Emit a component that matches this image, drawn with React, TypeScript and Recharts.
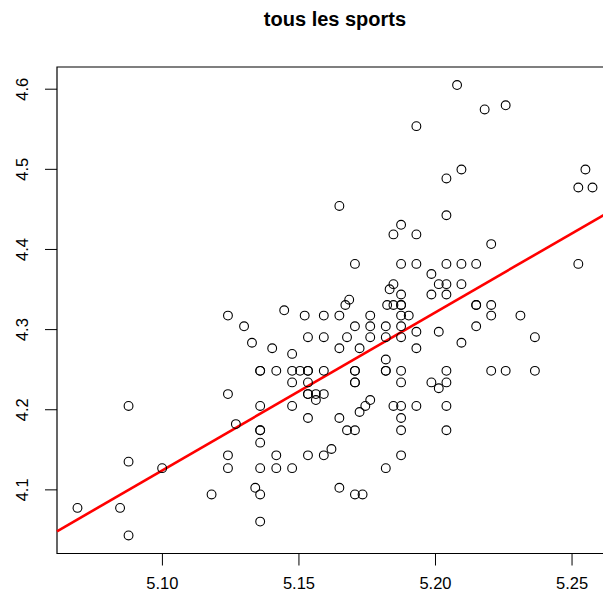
import React from 'react';
import { ScatterChart, Scatter, XAxis, YAxis, ReferenceLine, ReferenceArea } from 'recharts';

// log(taille) et log(poids)
const logHeight = [
  5.0689, 5.0845, 5.0876, 5.0876, 5.0876, 5.0999, 5.1180, 5.1240, 5.1269, 5.1240,
  5.1240, 5.1340, 5.1358, 5.1358, 5.1358, 5.1358, 5.1358, 5.1358, 5.1417, 5.1417,
  5.1475, 5.1533, 5.1591, 5.1619, 5.1648, 5.1676, 5.1705, 5.1705, 5.1733, 5.1818,
  5.1874, 5.1874, 5.1240, 5.1299, 5.1328, 5.1402, 5.1446, 5.1475, 5.1521, 5.1591,
  5.1648, 5.1670, 5.1684, 5.1705, 5.1761, 5.1761, 5.1818, 5.1846, 5.1832, 5.1874,
  5.1823, 5.1846, 5.1874, 5.1874, 5.1874, 5.1902, 5.1874, 5.1874, 5.1930, 5.1930,
  5.1533, 5.1591, 5.1648, 5.1676, 5.1722, 5.1761, 5.1818, 5.1818, 5.1358, 5.1358,
  5.1417, 5.1475, 5.1504, 5.1533, 5.1533, 5.1591, 5.1705, 5.1705, 5.1818, 5.1818,
  5.1874, 5.1475, 5.1533, 5.1705, 5.1705, 5.1874, 5.1533, 5.1533, 5.1562, 5.1591,
  5.1562, 5.1358, 5.1475, 5.1761, 5.1743, 5.1722, 5.1846, 5.1874, 5.1930, 5.1533,
  5.1648, 5.1874, 5.1874, 5.1930, 5.2040, 5.2095, 5.2149, 5.2523, 5.1985, 5.2012,
  5.2040, 5.2095, 5.1985, 5.2040, 5.2149, 5.2149, 5.2204, 5.2204, 5.2311, 5.2149,
  5.2012, 5.2364, 5.2095, 5.2040, 5.2204, 5.2257, 5.2364, 5.1985, 5.2040, 5.2012,
  5.2040, 5.2040, 5.2079, 5.1930, 5.2180, 5.2257, 5.2095, 5.2040, 5.2549, 5.2523,
  5.2575, 5.2040, 5.1874, 5.1846, 5.1930, 5.2204, 5.1648, 5.1705,
];

const logWeight = [
  4.0775, 4.0775, 4.2047, 4.1352, 4.0431, 4.1271, 4.0943, 4.2195, 4.1821, 4.1431,
  4.1271, 4.1026, 4.1744, 4.1744, 4.1589, 4.1271, 4.0943, 4.0604, 4.1431, 4.1271,
  4.1271, 4.1431, 4.1431, 4.1510, 4.1026, 4.1744, 4.1744, 4.0943, 4.0943, 4.1271,
  4.1744, 4.1431, 4.3175, 4.3041, 4.2836, 4.2767, 4.3241, 4.2697, 4.3175, 4.3175,
  4.3175, 4.3307, 4.3373, 4.3041, 4.3175, 4.3041, 4.3041, 4.3567, 4.3503, 4.3438,
  4.3307, 4.3307, 4.3307, 4.3307, 4.3175, 4.3175, 4.3041, 4.2905, 4.2973, 4.2767,
  4.2905, 4.2905, 4.2767, 4.2905, 4.2767, 4.2905, 4.2905, 4.2627, 4.2485, 4.2485,
  4.2485, 4.2485, 4.2485, 4.2485, 4.2485, 4.2485, 4.2485, 4.2485, 4.2485, 4.2485,
  4.2485, 4.2341, 4.2341, 4.2341, 4.2341, 4.2341, 4.2195, 4.2195, 4.2195, 4.2195,
  4.2121, 4.2047, 4.2047, 4.2121, 4.2047, 4.1972, 4.2047, 4.2047, 4.2047, 4.1897,
  4.1897, 4.1897, 4.3820, 4.3820, 4.3820, 4.3820, 4.3820, 4.3820, 4.3694, 4.3567,
  4.3567, 4.3567, 4.3438, 4.3438, 4.3307, 4.3307, 4.3307, 4.3175, 4.3175, 4.3041,
  4.2973, 4.2905, 4.2836, 4.2485, 4.2485, 4.2485, 4.2485, 4.2341, 4.2341, 4.2268,
  4.2047, 4.1744, 4.6052, 4.5539, 4.5747, 4.5799, 4.4998, 4.4886, 4.4998, 4.4773,
  4.4773, 4.4427, 4.4308, 4.4188, 4.4188, 4.4067, 4.4543, 4.3820,
];

const xTicks = [5.10, 5.15, 5.20, 5.25];
const yTicks = [4.1, 4.2, 4.3, 4.4, 4.5, 4.6];
const xDomain = [5.0614, 5.2650];
const yDomain = [4.0206, 4.6277];

const points = logHeight.map((x, i) => ({ x, y: logWeight[i] }));

// droite des moindres carrés
const n = points.length;
const mx = points.reduce((s, p) => s + p.x, 0) / n;
const my = points.reduce((s, p) => s + p.y, 0) / n;
let sxy = 0;
let sxx = 0;
points.forEach(p => {
  sxy += (p.x - mx) * (p.y - my);
  sxx += (p.x - mx) * (p.x - mx);
});
const slope = sxy / sxx;
const intercept = my - slope * mx;
const fitAt = (x: number) => intercept + slope * x;

const FONT = '"Liberation Sans", Arial, Helvetica, sans-serif';

const Ring = (props: any) => (
  <circle cx={props.cx} cy={props.cy} r={4.4} fill="none" stroke="#000" strokeWidth={1.1} />
);

const YTick = (props: any) => {
  const { x, y, payload } = props;
  return (
    <text
      transform={`translate(${x},${y}) rotate(-90)`}
      textAnchor="middle"
      dy="0.36em"
      fontSize={16.5}
      fontFamily={FONT}
      fill="#000"
    >
      {payload.value.toFixed(1)}
    </text>
  );
};

export default function App() {
  return (
    <div style={{ position: 'absolute', left: 0, top: 0, width: 603, height: 600, overflow: 'hidden', background: '#fff' }}>
      <div
        style={{
          position: 'absolute', left: 57, width: 556, top: 8, textAlign: 'center',
          fontFamily: FONT, fontWeight: 'bold', fontSize: 20, color: '#000',
        }}
      >
        tous les sports
      </div>
      <ScatterChart width={620} height={600} margin={{ top: 67, right: 7, bottom: 0, left: 0 }}>
        <XAxis
          type="number"
          dataKey="x"
          domain={xDomain}
          ticks={xTicks}
          allowDataOverflow
          height={46.5}
          axisLine={false}
          tickSize={12}
          tickMargin={12}
          tickLine={{ stroke: '#000' }}
          tick={{ fill: '#000', fontSize: 16.5, fontFamily: FONT }}
          tickFormatter={(v: number) => v.toFixed(2)}
        />
        <YAxis
          type="number"
          dataKey="y"
          domain={yDomain}
          ticks={yTicks}
          allowDataOverflow
          width={57}
          axisLine={false}
          tickSize={12}
          tickMargin={23}
          tickLine={{ stroke: '#000' }}
          tick={<YTick />}
        />
        <ReferenceArea
          x1={xDomain[0]}
          x2={xDomain[1]}
          y1={yDomain[0]}
          y2={yDomain[1]}
          fill="none"
          stroke="#000"
          strokeWidth={1.2}
          fillOpacity={0}
        />
        <Scatter data={points} shape={<Ring />} isAnimationActive={false} />
        <ReferenceLine
          segment={[
            { x: xDomain[0], y: fitAt(xDomain[0]) },
            { x: xDomain[1], y: fitAt(xDomain[1]) },
          ]}
          stroke="#ff0000"
          strokeWidth={2.6}
        />
      </ScatterChart>
    </div>
  );
}
